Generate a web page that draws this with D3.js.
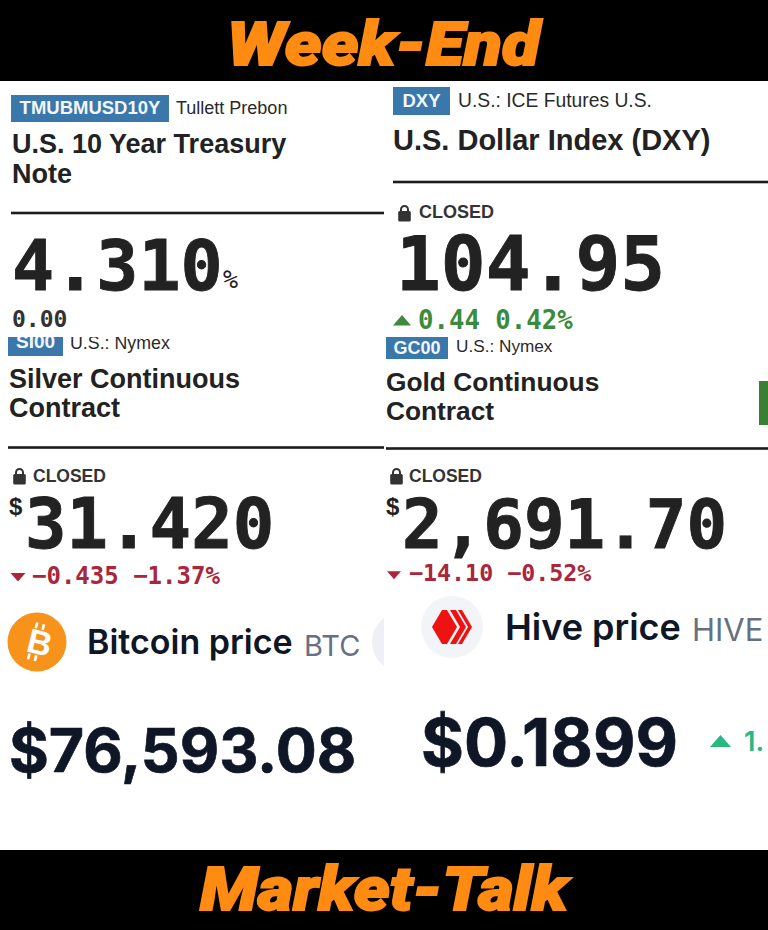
<!DOCTYPE html>
<html><head><meta charset="utf-8">
<script src="https://cdn.jsdelivr.net/npm/d3@7"></script>
<style>html,body{margin:0;padding:0;background:#fff}svg{display:block}</style></head>
<body><div id="c"></div>
<script>
// ---- data ----
const bannerTexts = ["Week-End", "Market-Talk"];
const tickers = ["TMUBMUSD10Y", "DXY", "SI00", "GC00"];
const exchanges = ["Tullett Prebon", "U.S.: ICE Futures U.S.", "U.S.: Nymex", "U.S.: Nymex"];
const names = [["U.S. 10 Year Treasury", "Note"], ["U.S. Dollar Index (DXY)"], ["Silver Continuous", "Contract"], ["Gold Continuous", "Contract"]];
const prices = ["4.310", "104.95", "31.420", "2,691.70"];
const changes = ["0.00", "0.44 0.42%", "−0.435 −1.37%", "−14.10 −0.52%"];
const directions = [0, 1, -1, -1];
const closedFlags = [false, true, true, true];
const cryptoNames = ["Bitcoin price", "Hive price"];
const cryptoSymbols = ["BTC", "HIVE"];
const cryptoPrices = ["$76,593.08", "$0.1899"];

// ---- layout (separate from the data) ----
const L = [
 {clipY:81, bx:11,by:95,bw:158,bh:27,bt:19,bfs:18.5, ex:176,ey:114,efs:18, tx:12,ty:[153,183],tfs:27, lx1:11,lx2:384,ly:213,
  px:12,py:290,pfs:70, cx:12,cy:327,cfs:23, unit:"%",ux:223,uy:288,ufs:25},
 {clipY:81, bx:393,by:87,bw:57,bh:28,bt:20,bfs:18.5, ex:458,ey:107,efs:19.3, tx:393,ty:[150],tfs:29, lx1:393,lx2:768,ly:182,
  lockx:398,locky:204,closedx:419,closedy:218,closedfs:18,
  px:396,py:290,pfs:74.5, tri:[402,320.5,9],cx:418,cy:329,cfs:25.7},
 {clipY:337, bx:8,by:337,bw:55,bh:19,bt:11,bfs:19, ex:70,ey:349,efs:17.8, tx:9,ty:[388,417],tfs:27, lx1:8,lx2:384,ly:447.5,
  lockx:13,locky:467,closedx:33,closedy:482,closedfs:17.5, dx:9,dy:515,dfs:24,
  px:25,py:548,pfs:69, tri:[18,577,7.5],cx:32,cy:584,cfs:24},
 {clipY:337, bx:386,by:337,bw:62,bh:22,bt:17,bfs:18, ex:456,ey:352,efs:17.2, tx:386,ty:[391,420],tfs:26.3, lx1:386,lx2:768,ly:448.5,
  lockx:390,locky:467,closedx:409,closedy:482,closedfs:17.5, dx:386,dy:515,dfs:24,
  px:402,py:548,pfs:67.5, tri:[394,575,7],cx:409,cy:581,cfs:23.3}
];
const sans = "'Liberation Sans',Arial,sans-serif", mono = "'DejaVu Sans Mono',monospace", inter = "Inter,sans-serif";
const ink = "#222222";
const dirColor = d3.scaleOrdinal().domain([-1,0,1]).range(["#a8273c", "#333333", "#3b8a3e"]);

const svg = d3.select("#c").append("svg").attr("width",768).attr("height",930).attr("viewBox","0 0 768 930");
svg.append("rect").attr("width",768).attr("height",930).attr("fill","#fff");
const defs = svg.append("defs");

const text = (g,s,x,y,fs,o={}) => g.append("text").attr("x",x).attr("y",y).attr("font-size",fs)
  .attr("font-family",o.ff||sans).attr("font-weight",o.w||400).attr("fill",o.fill||ink)
  .attr("stroke",o.sw?(o.fill||ink):null).attr("stroke-width",o.sw||null).text(s);

// panels
tickers.forEach((t,i)=>{
  const l = L[i];
  defs.append("clipPath").attr("id","p"+i).append("rect").attr("x",0).attr("y",l.clipY).attr("width",768).attr("height",930-l.clipY);
  const g = svg.append("g").attr("clip-path",`url(#p${i})`);
  g.append("rect").attr("x",l.bx).attr("y",l.by).attr("width",l.bw).attr("height",l.bh).attr("fill","#3a78ab");
  g.append("text").attr("x",l.bx+l.bw/2).attr("y",l.by+l.bt).attr("text-anchor","middle").attr("font-size",l.bfs)
    .attr("font-family",sans).attr("font-weight",700).attr("fill","#f2f6fa").text(t);
  text(g,exchanges[i],l.ex,l.ey,l.efs,{fill:"#2a2a2a"});
  names[i].forEach((n,k)=>text(g,n,l.tx,l.ty[k],l.tfs,{w:700}));
  g.append("rect").attr("x",l.lx1).attr("y",l.ly-1.3).attr("width",l.lx2-l.lx1).attr("height",2.6).attr("fill","#1c1c1c");
  if (closedFlags[i]) {
    const lg = g.append("g").attr("transform",`translate(${l.lockx},${l.locky})`);
    lg.append("path").attr("d","M3 8V5.5a3.5 3.5 0 0 1 7 0V8").attr("fill","none").attr("stroke","#333").attr("stroke-width",2);
    lg.append("rect").attr("x",0.2).attr("y",7).attr("width",12.6).attr("height",10.5).attr("rx",1.5).attr("fill","#333");
    text(g,"CLOSED",l.closedx,l.closedy,l.closedfs,{w:700,fill:"#333"});
  }
  if (l.dx!==undefined) text(g,"$",l.dx,l.dy,l.dfs,{w:700,ff:sans});
  text(g,prices[i],l.px,l.py,l.pfs,{w:700,ff:mono,sw:0.9});
  if (l.unit) text(g,l.unit,l.ux,l.uy,l.ufs,{ff:mono});
  const col = dirColor(directions[i]);
  if (directions[i]!==0) {
    const [tx,ty,r]=l.tri, d=directions[i];
    g.append("path").attr("d",`M${tx-r} ${ty+d*r*0.55}L${tx+r} ${ty+d*r*0.55}L${tx} ${ty-d*r*0.6}Z`).attr("fill",col);
  }
  text(g,changes[i],l.cx,l.cy,l.cfs,{w:700,ff:mono,fill:col});
});
// green sliver at the right of the gold panel
svg.append("rect").attr("x",759).attr("y",381).attr("width",9).attr("height",44).attr("fill","#3a8034");

// Bitcoin
const navy="#0f1626", slate="#66707f";
svg.append("circle").attr("cx",37).attr("cy",642).attr("r",29.5).attr("fill","#f7931a");
svg.append("text").attr("transform","translate(37,654) rotate(14)").attr("text-anchor","middle").attr("font-size",34)
  .attr("font-family",sans).attr("font-weight",700).attr("fill","#fff").text("B");
const bt = svg.append("g").attr("transform","translate(37,642) rotate(14)").attr("stroke","#fff").attr("stroke-width",2.6);
[[-4.5,-19,-4.5,-13],[2.5,-19,2.5,-13],[-4.5,13,-4.5,19],[2.5,13,2.5,19]].forEach(s=>bt.append("line").attr("x1",s[0]).attr("y1",s[1]).attr("x2",s[2]).attr("y2",s[3]));
text(svg,cryptoNames[0],87,654,34,{ff:inter,w:600,fill:navy});
text(svg,cryptoSymbols[0],304,656,29,{ff:inter,fill:slate});
defs.append("clipPath").attr("id","btcclip").append("rect").attr("x",0).attr("y",590).attr("width",384).attr("height",120);
svg.append("circle").attr("cx",402).attr("cy",642).attr("r",30).attr("fill","#eff0f5").attr("clip-path","url(#btcclip)");
text(svg,cryptoPrices[0],9,772,60.8,{ff:inter,w:700,fill:navy,sw:0.7});

// Hive
svg.append("circle").attr("cx",452).attr("cy",627).attr("r",31).attr("fill","#f3f4f8");
const hg = svg.append("g").attr("transform","translate(452,627)").attr("fill","#ee1212");
hg.append("path").attr("d","M-20 0L-10 -17L-5 -17L5 0L-5 17L-10 17Z");
hg.append("path").attr("d","M-2 -17L4 -17L14 0L4 17L-2 17L8 0Z");
hg.append("path").attr("d","M6 -17L10 -17L20 0L10 17L6 17L16 0Z");
text(svg,cryptoNames[1],505,640,36,{ff:inter,w:600,fill:navy});
text(svg,cryptoSymbols[1],692,641,31,{ff:inter,fill:slate});
text(svg,cryptoPrices[1],421,766,65.5,{ff:inter,w:700,fill:navy,sw:0.7});
svg.append("path").attr("d","M710 747L720.5 735L731 747Z").attr("fill","#27b97f");
text(svg,"1.",744,751,27,{ff:inter,w:600,fill:"#27b97f"});

// banners
svg.append("rect").attr("width",768).attr("height",81).attr("fill","#000");
svg.append("rect").attr("y",850).attr("width",768).attr("height",80).attr("fill","#000");
const bannerY=[65,910], bannerX=[227,200], bannerW=[313,368];
bannerTexts.forEach((b,i)=>{
  svg.append("text").attr("x",bannerX[i]).attr("y",bannerY[i]).attr("font-size",60)
    .attr("font-family","Roboto,'Liberation Sans',sans-serif").attr("font-weight",900).attr("font-style","italic")
    .attr("textLength",bannerW[i]).attr("lengthAdjust","spacingAndGlyphs")
    .attr("fill","#ff8b12").attr("stroke","#ff8b12").attr("stroke-width",1.8).text(b);
});
</script></body></html>
